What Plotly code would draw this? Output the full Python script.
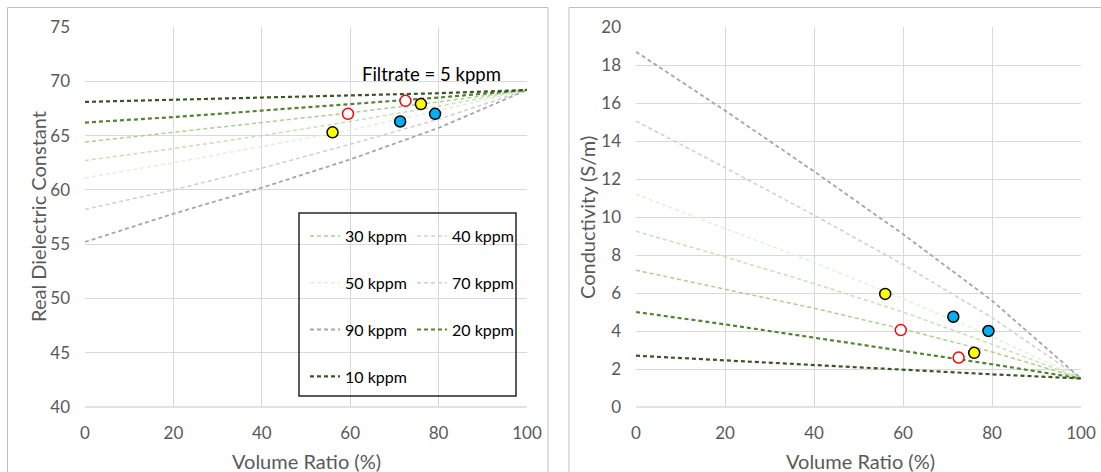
import plotly.graph_objects as go

# ---------------- data ----------------
vol_ratio = [0, 20, 40, 60, 80, 100]
series_names = ["30 kppm", "40 kppm", "50 kppm", "70 kppm", "90 kppm", "20 kppm", "10 kppm"]

diel_30 = [64.4, 65.3, 66.2, 67.1, 68.1, 69.2]
diel_40 = [62.7, 63.8, 65.0, 66.3, 67.7, 69.2]
diel_50 = [61.1, 62.5, 64.0, 65.5, 67.3, 69.2]
diel_70 = [58.2, 60.0, 62.0, 64.2, 66.5, 69.2]
diel_90 = [55.2, 57.8, 60.2, 62.8, 65.7, 69.2]
diel_20 = [66.2, 66.7, 67.3, 67.9, 68.5, 69.2]
diel_10 = [68.1, 68.3, 68.5, 68.7, 68.9, 69.2]

cond_30 = [7.2, 6.2, 5.2, 4.1, 2.9, 1.5]
cond_40 = [9.25, 7.9, 6.5, 5.0, 3.3, 1.5]
cond_50 = [11.2, 9.4, 7.6, 5.7, 3.7, 1.5]
cond_70 = [15.05, 12.6, 10.1, 7.5, 4.7, 1.5]
cond_90 = [18.7, 15.6, 12.4, 9.1, 5.6, 1.5]
cond_20 = [5.0, 4.35, 3.65, 2.95, 2.25, 1.5]
cond_10 = [2.7, 2.45, 2.2, 1.95, 1.72, 1.5]

yellow_x = [56.0, 76.0]
yellow_diel = [65.3, 67.9]
yellow_cond = [5.95, 2.85]
red_x = [59.5, 72.5]
red_diel = [67.0, 68.2]
red_cond = [4.05, 2.6]
blue_x = [71.3, 79.2]
blue_diel = [66.3, 67.0]
blue_cond = [4.75, 4.0]

x_ticks = [0, 20, 40, 60, 80, 100]
diel_ticks = [40, 45, 50, 55, 60, 65, 70, 75]
cond_ticks = [0, 2, 4, 6, 8, 10, 12, 14, 16, 18, 20]

# ---------------- styles ----------------
diel_series = [diel_30, diel_40, diel_50, diel_70, diel_90, diel_20, diel_10]
cond_series = [cond_30, cond_40, cond_50, cond_70, cond_90, cond_20, cond_10]
colors = ["#A9D18E", "#C5E0B4", "#E2F0D9", "#D0CECE", "#A6A6A6", "#548235", "#375623"]
widths = [1.5, 1.5, 1.5, 1.5, 1.8, 2.2, 2.2]
legend_ids = ["legend", "legend2", "legend", "legend2", "legend", "legend2", "legend"]
ranks = [1, 1, 2, 2, 3, 3, 4]

W, H = 1101, 472
def px(x):
    return x / W
def py(y):
    return 1 - y / H

FONT = "Lato"
GRAY = "#595959"

fig = go.Figure()

for i, name in enumerate(series_names):
    fig.add_trace(go.Scatter(
        x=vol_ratio, y=diel_series[i], mode="lines", name=name,
        line=dict(color=colors[i], width=widths[i], dash="4px,3px"),
        legend=legend_ids[i], legendrank=ranks[i], legendgroup=name,
        xaxis="x", yaxis="y", showlegend=True))
    fig.add_trace(go.Scatter(
        x=vol_ratio, y=cond_series[i], mode="lines", name=name,
        line=dict(color=colors[i], width=widths[i], dash="4px,3px"),
        legendgroup=name, xaxis="x2", yaxis="y2", showlegend=False))

marker_sets = [
    (yellow_x, yellow_diel, yellow_cond, dict(color="#FFFF00", size=11, line=dict(color="#000000", width=1.5))),
    (red_x, red_diel, red_cond, dict(color="#FFFFFF", size=11, line=dict(color="#FF0000", width=1.5))),
    (blue_x, blue_diel, blue_cond, dict(color="#00B0F0", size=11, line=dict(color="#000000", width=1.5))),
]
for mx, md, mc, mk in marker_sets:
    fig.add_trace(go.Scatter(x=mx, y=md, mode="markers", marker=mk, xaxis="x", yaxis="y", showlegend=False))
    fig.add_trace(go.Scatter(x=mx, y=mc, mode="markers", marker=mk, xaxis="x2", yaxis="y2", showlegend=False))

axis_common = dict(showgrid=True, gridcolor="#D9D9D9", gridwidth=1, zeroline=False,
                   showline=False, ticks="", automargin=False,
                   tickfont=dict(family=FONT, size=17, color=GRAY))

fig.update_layout(
    width=W, height=H, margin=dict(l=0, r=0, t=0, b=0),
    paper_bgcolor="white", plot_bgcolor="white",
    xaxis=dict(domain=[px(85), px(527)], range=[0, 100], tickvals=x_ticks, anchor="y",
               ticklabelstandoff=14, **axis_common),
    yaxis=dict(domain=[py(407), py(27)], range=[40, 75], tickvals=diel_ticks, anchor="x",
               ticklabelstandoff=14, **axis_common),
    xaxis2=dict(domain=[px(636), px(1081)], range=[0, 100], tickvals=x_ticks, anchor="y2",
                ticklabelstandoff=14, **axis_common),
    yaxis2=dict(domain=[py(407), py(27)], range=[0, 20], tickvals=cond_ticks, anchor="x2",
                ticklabelstandoff=14, **axis_common),
    legend=dict(x=px(305), y=py(219), xanchor="left", yanchor="top", bgcolor="rgba(0,0,0,0)",
                font=dict(family=FONT, size=16, color="#000000"), tracegroupgap=23,
                itemwidth=30),
    legend2=dict(x=px(412), y=py(219), xanchor="left", yanchor="top", bgcolor="rgba(0,0,0,0)",
                 font=dict(family=FONT, size=16, color="#000000"), tracegroupgap=23,
                 itemwidth=30),
    showlegend=True,
)

shapes = [
    # panel borders
    dict(type="rect", xref="paper", yref="paper", x0=px(7.5), x1=px(548), y0=py(490), y1=py(7.5),
         line=dict(color="#BFBFBF", width=1), fillcolor="rgba(0,0,0,0)"),
    dict(type="rect", xref="paper", yref="paper", x0=px(569), x1=px(1120), y0=py(490), y1=py(7.5),
         line=dict(color="#BFBFBF", width=1), fillcolor="rgba(0,0,0,0)"),
    # legend box
    dict(type="rect", xref="paper", yref="paper", x0=px(299), x1=px(516), y0=py(396), y1=py(213),
         line=dict(color="#262626", width=1.5), fillcolor="rgba(0,0,0,0)", layer="above"),
    # bottom axis lines
    dict(type="line", xref="paper", yref="paper", x0=px(85), x1=px(527), y0=py(407), y1=py(407),
         line=dict(color="#D9D9D9", width=1.5)),
    dict(type="line", xref="paper", yref="paper", x0=px(636), x1=px(1081), y0=py(407), y1=py(407),
         line=dict(color="#D9D9D9", width=1.5)),
]
fig.update_layout(shapes=shapes)

ann_common = dict(xref="paper", yref="paper", showarrow=False, xanchor="center", yanchor="middle")
annotations = [
    dict(text="Filtrate = 5 kppm", x=px(431), y=py(74),
         font=dict(family=FONT, size=18.5, color="#000000"), **ann_common),
    dict(text="Real Dielectric Constant", x=px(38), y=py(217), textangle=-90,
         font=dict(family=FONT, size=20, color=GRAY), **ann_common),
    dict(text="Conductivity (S/m)", x=px(587), y=py(218), textangle=-90,
         font=dict(family=FONT, size=20, color=GRAY), **ann_common),
    dict(text="Volume Ratio (%)", x=px(306), y=py(461),
         font=dict(family=FONT, size=20, color=GRAY), **ann_common),
    dict(text="Volume Ratio (%)", x=px(860), y=py(461),
         font=dict(family=FONT, size=20, color=GRAY), **ann_common),
]
fig.update_layout(annotations=annotations)

fig.write_html("out.html")
